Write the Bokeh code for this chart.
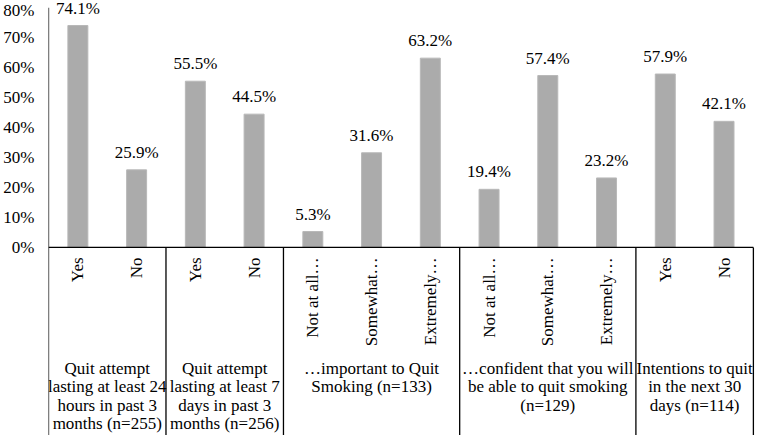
import math
from bokeh.plotting import figure
from bokeh.models import Range1d, FixedTicker, PrintfTickFormatter, ColumnDataSource
from bokeh.core.properties import value
from bokeh.embed import file_html
from bokeh.resources import INLINE

# ---- data ----
categories = ["Yes", "No", "Yes", "No",
              "Not at all\u2026", "Somewhat\u2026", "Extremely\u2026",
              "Not at all\u2026", "Somewhat\u2026", "Extremely\u2026",
              "Yes", "No"]
percentages = [74.1, 25.9, 55.5, 44.5, 5.3, 31.6, 63.2, 19.4, 57.4, 23.2, 57.9, 42.1]
group_labels = [
    "Quit attempt\nlasting at least 24\nhours in past 3\nmonths (n=255)",
    "Quit attempt\nlasting at least 7\ndays in past 3\nmonths (n=256)",
    "\u2026important to Quit\nSmoking (n=133)",
    "\u2026confident that you will\nbe able to quit smoking\n(n=129)",
    "Intentions to quit\nin the next 30\ndays (n=114)",
]
group_sizes = [2, 2, 3, 3, 2]
y_ticks = [0, 10, 20, 30, 40, 50, 60, 70, 80]

# ---- layout ----
W, H = 757, 435
BORDER_L, BORDER_T = 48, 0
Y_TOP, Y_BOT = 82.45, -62.8
FONT = "Liberation Serif"
FS = "17px"
ppu = (H - BORDER_T) / (Y_TOP - Y_BOT)  # pixels per y unit

n = len(categories)
xs = [i + 0.5 for i in range(n)]

p = figure(width=W, height=H, output_backend="svg", toolbar_location=None,
           x_range=Range1d(0, n + 0.07), y_range=Range1d(Y_BOT, Y_TOP),
           min_border_left=BORDER_L, min_border_right=0,
           min_border_top=BORDER_T, min_border_bottom=0,
           x_axis_location=None)
p.outline_line_color = None
p.xgrid.visible = False
p.ygrid.visible = False
p.background_fill_color = "white"
p.border_fill_color = "white"

ax = p.yaxis[0]
ax.ticker = FixedTicker(ticks=y_ticks)
ax.formatter = PrintfTickFormatter(format="%d%%")
ax.axis_line_color = None
ax.major_tick_line_color = None
ax.minor_tick_line_color = None
ax.major_tick_in = 0
ax.major_tick_out = 0
ax.major_label_standoff = 14
ax.major_label_text_font = FONT
ax.major_label_text_font_size = FS
ax.major_label_text_color = "black"

src = ColumnDataSource(dict(x=xs, top=percentages, cat=categories,
                            lab=[f"{v:.1f}%" for v in percentages]))

p.vbar(x="x", top="top", bottom=0, width=0.34, source=src,
       fill_color="#ABABAB", line_color="#B8B8B8", line_width=1)

# value labels above bars
p.text(x="x", y="top", text="lab", source=src, y_offset=-8,
       text_align="center", text_baseline="bottom",
       text_font=value(FONT), text_font_size=FS, text_color="black")

# rotated category labels
cat_y = -10 / ppu
p.text(x="x", y=cat_y, text="cat", source=src, angle=math.pi / 2,
       text_align="right", text_baseline="middle",
       text_font=value(FONT), text_font_size=FS, text_color="black")

# group boundaries
bounds = [0]
for s in group_sizes:
    bounds.append(bounds[-1] + s)

# baseline
p.segment(x0=[0], y0=[0], x1=[n], y1=[0], line_color="black", line_width=1.3)
# y axis line
p.segment(x0=[0], y0=[y_ticks[-1]], x1=[0], y1=[Y_BOT], line_color="black", line_width=1.3)
# separators
p.segment(x0=bounds[1:], y0=[0] * (len(bounds) - 1), x1=bounds[1:], y1=[Y_BOT] * (len(bounds) - 1),
          line_color="black", line_width=1.3)

# group labels, one text per line for exact line spacing
FIRST_BASE_PX, LINE_PX = 121, 18.5
gx, gyl, gt = [], [], []
for i, lab in enumerate(group_labels):
    c = (bounds[i] + bounds[i + 1]) / 2
    for j, line in enumerate(lab.split("\n")):
        gx.append(c)
        gyl.append(-(FIRST_BASE_PX + j * LINE_PX) / ppu)
        gt.append(line)
p.text(x=gx, y=gyl, text=gt,
       text_align="center", text_baseline="alphabetic",
       text_font=value(FONT), text_font_size=FS, text_color="black")

open("out.html", "w").write(file_html(p, INLINE))
